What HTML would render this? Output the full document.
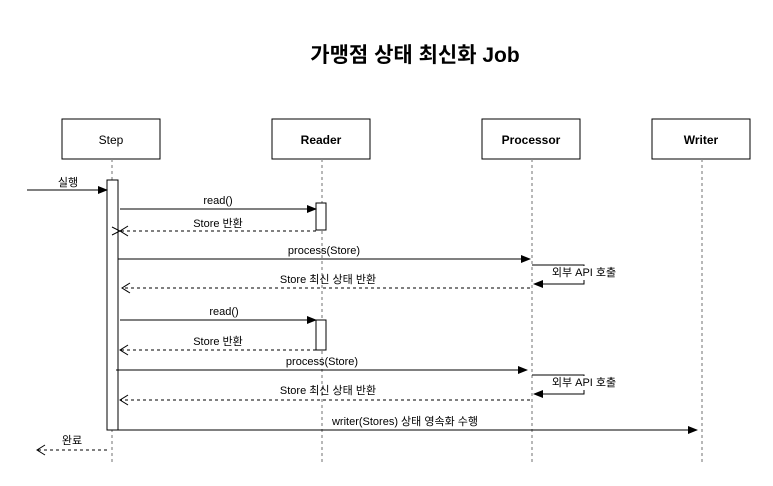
<!DOCTYPE html>
<html><head><meta charset="utf-8"><style>
html,body{margin:0;padding:0;background:#fff;}
svg text{font-family:"Liberation Sans","Noto Sans CJK KR",sans-serif;fill:#000;}
</style></head><body>
<svg width="773" height="481" viewBox="0 0 773 481" xmlns="http://www.w3.org/2000/svg">
<defs>
<marker id="f" markerWidth="10" markerHeight="8" refX="9" refY="4" orient="auto" markerUnits="userSpaceOnUse"><path d="M0,0 L10,4 L0,8 Z" fill="#000"/></marker>
<marker id="o" markerWidth="10" markerHeight="10" refX="1" refY="5" orient="auto-start-reverse" markerUnits="userSpaceOnUse"><path d="M9,1 L1,5 L9,9" fill="none" stroke="#000" stroke-width="1"/></marker>
</defs>
<text x="415" y="62" font-size="21" font-weight="bold" text-anchor="middle">가맹점 상태 최신화 Job</text>
<g stroke="#000" fill="#fff">
<rect x="62" y="119" width="98" height="40"/>
<rect x="272" y="119" width="98" height="40"/>
<rect x="482" y="119" width="98" height="40"/>
<rect x="652" y="119" width="98" height="40"/>
</g>
<g font-size="12" text-anchor="middle">
<text x="111" y="144">Step</text>
<text x="321" y="144" font-weight="bold">Reader</text>
<text x="531" y="144" font-weight="bold">Processor</text>
<text x="701" y="144" font-weight="bold">Writer</text>
</g>
<g stroke="#888" stroke-dasharray="3,3" stroke-width="1.2">
<line x1="112" y1="159" x2="112" y2="462"/>
<line x1="322" y1="159" x2="322" y2="462"/>
<line x1="532" y1="159" x2="532" y2="462"/>
<line x1="702" y1="159" x2="702" y2="462"/>
</g>
<g stroke="#000" fill="#fff">
<rect x="107" y="180" width="11" height="250"/>
<rect x="316" y="203" width="10" height="27"/>
<rect x="316" y="320" width="10" height="30"/>
</g>
<g stroke="#000" fill="none" stroke-width="1">
<line x1="27" y1="190" x2="107" y2="190" marker-end="url(#f)"/>
<line x1="120" y1="209" x2="316" y2="209" marker-end="url(#f)"/>
<line x1="316" y1="231" x2="120" y2="231" stroke-dasharray="3,3" marker-end="url(#o)" marker-start="none"/>
<line x1="118" y1="259" x2="530" y2="259" marker-end="url(#f)"/>
<polyline points="532,265 584,265 584,284 534,284"/>
<line x1="544" y1="284" x2="534" y2="284" marker-end="url(#f)"/>
<line x1="530" y1="288" x2="122" y2="288" stroke-dasharray="3,3"/>
<line x1="120" y1="320" x2="316" y2="320" marker-end="url(#f)"/>
<line x1="316" y1="350" x2="120" y2="350" stroke-dasharray="3,3"/>
<line x1="116" y1="370" x2="527" y2="370" marker-end="url(#f)"/>
<polyline points="532,375 584,375 584,394 534,394"/>
<line x1="544" y1="394" x2="534" y2="394" marker-end="url(#f)"/>
<line x1="530" y1="400" x2="120" y2="400" stroke-dasharray="3,3"/>
<line x1="118" y1="430" x2="697" y2="430" marker-end="url(#f)"/>
<line x1="107" y1="450" x2="37" y2="450" stroke-dasharray="3,3"/>
</g>
<g stroke="#000" fill="none">
<path d="M128,226 L120,231 L128,236"/>
<path d="M130,283 L122,288 L130,293"/>
<path d="M128,345 L120,350 L128,355"/>
<path d="M128,395 L120,400 L128,405"/>
<path d="M45,445 L37,450 L45,455"/>
</g>
<rect x="556" y="266" width="56" height="14" fill="#fff"/>
<rect x="556" y="376" width="56" height="14" fill="#fff"/>
<g font-size="11" text-anchor="middle">
<text x="68" y="186">실행</text>
<text x="218" y="204">read()</text>
<text x="218" y="227">Store 반환</text>
<text x="324" y="254">process(Store)</text>
<text x="584" y="276">외부 API 호출</text>
<text x="328" y="283">Store 최신 상태 반환</text>
<text x="224" y="315">read()</text>
<text x="218" y="345">Store 반환</text>
<text x="322" y="365">process(Store)</text>
<text x="584" y="386">외부 API 호출</text>
<text x="328" y="394">Store 최신 상태 반환</text>
<text x="405" y="425">writer(Stores)  상태 영속화 수행</text>
<text x="72" y="444">완료</text>
</g>
</svg>
</body></html>
